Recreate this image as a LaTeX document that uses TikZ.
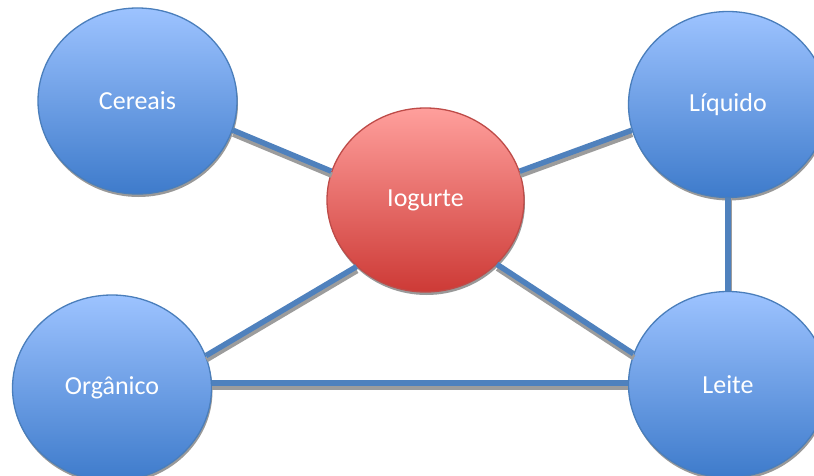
\documentclass[tikz,border=0pt]{standalone}
\usepackage{fontspec}
\setmainfont{Carlito}
\usetikzlibrary{shapes.geometric,shadows}
\definecolor{btop}{HTML}{9DC3FF}
\definecolor{bbot}{HTML}{3E7BCB}
\definecolor{bborder}{HTML}{4A7EBB}
\definecolor{rtop}{HTML}{FF9F9C}
\definecolor{rbot}{HTML}{CD3A36}
\definecolor{rborder}{HTML}{BE4B48}
\definecolor{linkc}{HTML}{4F81BD}
\definecolor{shadowc}{HTML}{9C9C9C}
\begin{document}
\begin{tikzpicture}[x=1pt,y=-1pt,
  bub/.style={ellipse, minimum width=199pt, minimum height=186pt, inner sep=0pt,
    line width=1.3pt, text=white, font=\fontsize{26}{30}\selectfont,
    drop shadow={shadow xshift=1pt, shadow yshift=-3pt, opacity=0.4, fill=black}},
  bluebub/.style={bub, draw=bborder, top color=btop, bottom color=bbot},
  redbub/.style={bub, draw=rborder, top color=rtop, bottom color=rbot},
  link/.style={draw=linkc, line width=5.5pt},
  linkshadow/.style={draw=shadowc, line width=5.5pt}]
\path[use as bounding box] (0,0) rectangle (814,476);
\clip (0,0) rectangle (814,476);
\fill[white] (0,0) rectangle (814,476);

\node[bluebub] (C) at (137.5,101) {Cereais};
\node[bluebub] (L) at (728,104.5) {Líquido};
\node[redbub, minimum width=197pt, minimum height=184pt] (I) at (425.5,200) {Iogurte};
\node[bluebub] (O) at (112,388) {Orgânico};
\node[bluebub] (E) at (728,384.5) {Leite};

\foreach \a/\b in {C.-17/I.163, I.17.5/L.195, O.19/I.224, I.-42.7/E.162.6}{
  \draw[linkshadow] ([shift={(0.5,4)}]\a) -- ([shift={(0.5,4)}]\b);
  \draw[link] (\a) -- (\b);
}
\draw[linkshadow] ([shift={(0,4)}]O.3) -- ([shift={(0,4)}]O.3 -| E.west);
\draw[link] (O.3) -- (O.3 -| E.west);
\draw[linkshadow] ([shift={(1,0)}]L.south) -- ([shift={(1,0)}]E.north);
\draw[link] (L.south) -- (E.north);
\end{tikzpicture}
\end{document}
